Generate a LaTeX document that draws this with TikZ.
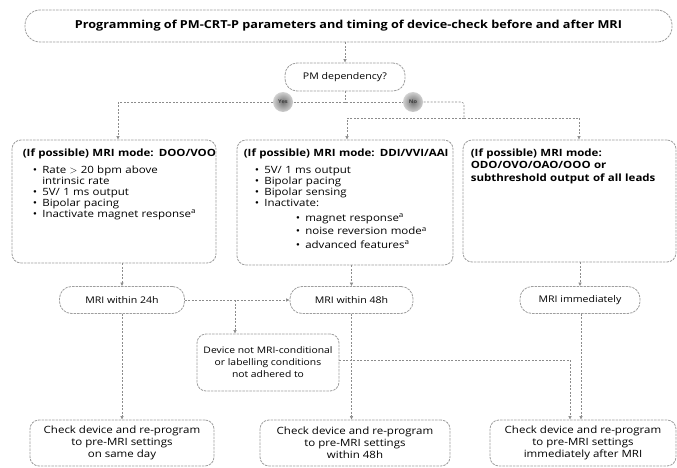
\documentclass[tikz,border=0pt]{standalone}
\usepackage{fontspec}
\setmainfont{Open Sans}[FakeStretch=1.15]
\usetikzlibrary{arrows.meta,calc}
\newcommand{\bitem}[2][0pt]{\par\noindent\hspace*{#1}\makebox[9.5pt][l]{\textbullet}#2}
\newcommand{\bcont}[1]{\par\noindent\hspace*{9.5pt}#1}
\tikzset{
  frame/.style={draw=black!38, line width=0.8pt, dash pattern=on 2.5pt off 1pt, fill=white, inner sep=0pt},
  bigbox/.style={frame, rounded corners=9pt},
  pill/.style={frame, rounded corners=12pt, align=center, font=\fontsize{9.2}{10}\selectfont},
  txtbox/.style={frame, rounded corners=9pt, align=center, font=\fontsize{9}{12}\selectfont},
  endbox/.style={frame, rounded corners=9pt, align=center, font=\fontsize{10}{12}\selectfont},
  boxtext/.style={anchor=north west, inner sep=0pt, font=\fontsize{10}{11}\selectfont},
  conn/.style={draw=black!45, line width=0.6pt, dash pattern=on 2pt off 1.5pt},
  arr/.style={-{Latex[length=3.5pt,width=3.5pt]}},
  yesno/.style={circle, minimum size=20pt, inner sep=0pt, shade, inner color=black!55, outer color=black!18, text=black!75, font=\fontsize{5}{5}\bfseries\selectfont}
}
\begin{document}
\begin{tikzpicture}[x=1pt,y=-1pt]
\useasboundingbox (0,0) rectangle (677,468);
% main nodes
\node[frame, rounded corners=15pt, minimum width=647pt, minimum height=32pt, font=\fontsize{11}{12}\bfseries\selectfont] (title) at (348.5,26) {Programming of PM-CRT-P parameters and timing of device-check before and after MRI};
\node[pill, minimum width=120pt, minimum height=28pt] (pm) at (345,77) {PM dependency?};
\node[bigbox, minimum width=204pt, minimum height=123pt] (lbox) at (114,201.5) {};
\node[bigbox, minimum width=216pt, minimum height=125pt] (mbox) at (345,202.5) {};
\node[bigbox, minimum width=213pt, minimum height=122pt] (rbox) at (569.5,201) {};
\node[pill, minimum width=125pt, minimum height=27pt] (n24) at (122,300) {MRI within 24h};
\node[pill, minimum width=123pt, minimum height=27pt] (n48) at (351.5,300) {MRI within 48h};
\node[pill, minimum width=120pt, minimum height=27pt] (nimm) at (580,300) {MRI immediately};
\node[txtbox, minimum width=142pt, minimum height=57pt] (dev) at (268,362.5) {Device not MRI-conditional\\or labelling conditions\\not adhered to};
\node[endbox, minimum width=184pt, minimum height=46pt] (b1) at (122,443) {Check device and re-program\\to pre-MRI settings\\on same day};
\node[endbox, minimum width=190pt, minimum height=46pt] (b2) at (355,443) {Check device and re-program\\to pre-MRI settings\\within 48h};
\node[endbox, minimum width=186pt, minimum height=46pt] (b3) at (583,443) {Check device and re-program\\to pre-MRI settings\\immediately after MRI};
% box texts
\node[boxtext, text width=195pt] (ltext) at ($(lbox.north west)+(11,9)$) {%
  {\bfseries (If possible) MRI mode: DOO/VOO}\par\vspace{6pt}%
  \bitem[10pt]{Rate $>$ 20 bpm above}%
  \bcont{\hspace*{10pt}intrinsic rate}%
  \bitem[10pt]{5V/ 1 ms output}%
  \bitem[10pt]{Bipolar pacing}%
  \bitem[10pt]{Inactivate magnet response\textsuperscript{a}}};
\node[boxtext, text width=210pt] (mtext) at ($(mbox.north west)+(7,9)$) {%
  {\bfseries (If possible) MRI mode: DDI/VVI/AAI}\par\vspace{6pt}%
  \bitem[11pt]{5V/ 1 ms output}%
  \bitem[11pt]{Bipolar pacing}%
  \bitem[11pt]{Bipolar sensing}%
  \bitem[11pt]{Inactivate:}\par\vspace{4pt}%
  \bitem[52pt]{magnet response\textsuperscript{a}}\par\vspace{2.5pt}%
  \bitem[52pt]{noise reversion mode\textsuperscript{a}}\par\vspace{2.5pt}%
  \bitem[52pt]{advanced features\textsuperscript{a}}};
\node[boxtext, text width=210pt, font=\fontsize{10}{12.5}\bfseries\selectfont] (rtext) at ($(rbox.north west)+(8,9)$) {%
  (If possible) MRI mode:\par ODO/OVO/OAO/OOO or\par subthreshold output of all leads};
% junction coordinates
\coordinate (j) at (345,102);
\coordinate (jl) at (118,102);
\coordinate (jr1) at (464,102);
\coordinate (jr2) at (464,118);
\coordinate (jm) at (347,118);
\coordinate (jrr) at (579,118);
\coordinate (jd) at (235,300);
\coordinate (jdv) at (570,360);
% connectors
\draw[conn,arr] (title.south -| pm) -- (pm.north);
\draw[conn] (pm.south) -- (j);
\draw[conn] (283,102) -- (jl);
\draw[conn] (283,102) -- (413,102);
\draw[conn,arr] (jl) -- (jl |- lbox.north);
\draw[conn,rounded corners=3pt] (413,102) -- (jr1) -- (jr2);
\draw[conn,arr] (jr2) -- (jm) -- (jm |- mbox.north);
\draw[conn,arr] (jr2) -- (jrr) -- (jrr |- rbox.north);
\draw[conn,arr] (lbox.south -| n24) -- (n24.north);
\draw[conn,arr] (mbox.south -| n48) -- (n48.north);
\draw[conn,arr] (rbox.south -| nimm) -- (nimm.north);
\draw[conn,arr] (n24.east) -- (n48.west);
\draw[conn,arr] (jd) -- (jd |- dev.north);
\draw[conn,arr] (n24.south) -- (n24.south |- b1.north);
\draw[conn,arr] (n48.south) -- (n48.south |- b2.north);
\draw[conn,arr] ([xshift=1pt]nimm.south) -- ([xshift=1pt]nimm.south |- b3.north);
\draw[conn,arr] (dev.east |- jdv) -- (jdv) -- (jdv |- b3.north);
% yes/no circles
\node[yesno] (cyes) at (283,102) {Yes};
\node[yesno] (cno) at (413,102) {No};
\end{tikzpicture}
\end{document}
